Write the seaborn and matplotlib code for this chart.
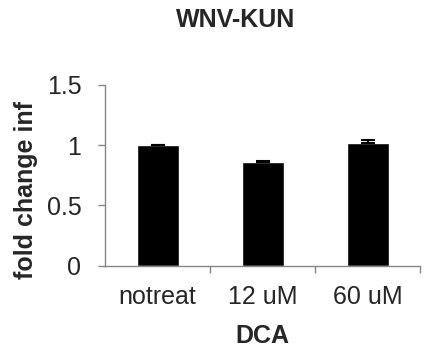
import matplotlib
matplotlib.use("Agg")
import matplotlib.pyplot as plt
import seaborn as sns
import pandas as pd
import numpy as np

categories = ["notreat", "12 uM", "60 uM"]
values = [1.0, 0.862, 1.02]
errors = [0.006, 0.01, 0.022]

sns.set_style("white")
plt.rcParams['font.family'] = ['Liberation Sans', 'DejaVu Sans']

df = pd.DataFrame({"cat": categories, "val": values})
FS = 18

fig = plt.figure(figsize=(4.24, 3.52), dpi=100)
ax = fig.add_axes([105/424, 1-265.7/352, 315/424, (265.7-85)/352])
sns.barplot(data=df, x="cat", y="val", color="black", width=0.4, errorbar=None, ax=ax, saturation=1)
ax.errorbar(np.arange(len(values)), values, yerr=[[0]*len(errors), errors], fmt="none",
            ecolor="black", elinewidth=1.5, capsize=5, capthick=1.5)
ax.set_xlim(-0.5, 2.5)
ax.set_ylim(0, 1.5)
ax.set_yticks([0, 0.5, 1, 1.5])
ax.set_yticklabels(["0", "0.5", "1", "1.5"])
ax.set_xticks([0.5, 1.5, 2.5], minor=True)
ax.tick_params(axis="x", which="major", length=0, labelsize=FS, pad=14)
ax.tick_params(axis="x", which="minor", length=5, color="#868686", width=1, direction="out", bottom=True)
ax.tick_params(axis="y", length=5, color="#868686", width=1, direction="out", left=True, labelsize=FS, pad=12)
for s in ["top", "right"]:
    ax.spines[s].set_visible(False)
for s in ["left", "bottom"]:
    ax.spines[s].set_color("#868686")
    ax.spines[s].set_linewidth(1)
ax.set_xlabel("DCA", fontsize=FS, fontweight="bold", labelpad=11)
ax.set_ylabel("")
fig.text(26/424, 1-190/352, "fold change inf", rotation=90, ha="center", va="center",
         fontsize=FS, fontweight="bold")
fig.text(236/424, 1-20/352, "WNV-KUN", ha="center", va="center", fontsize=FS, fontweight="bold")
fig.savefig("out.png", dpi=100)
